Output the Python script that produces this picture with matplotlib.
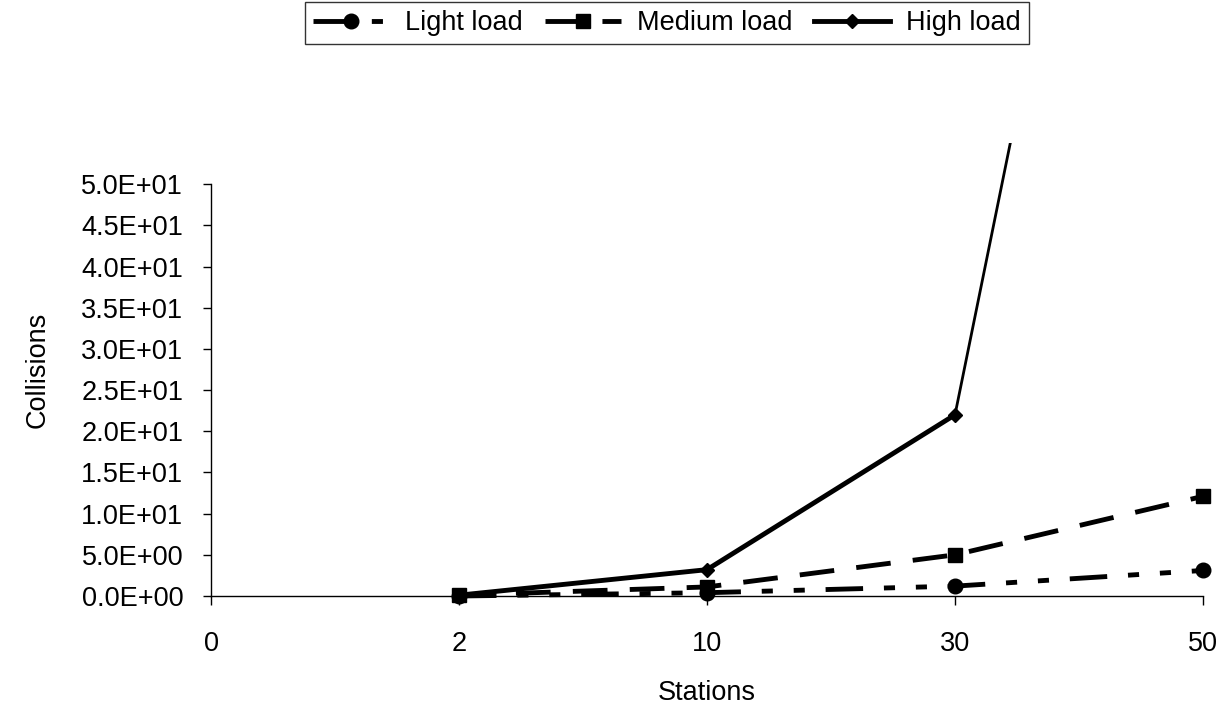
import matplotlib
matplotlib.use('Agg')
import matplotlib.pyplot as plt
from matplotlib.ticker import FormatStrFormatter

# Data
stations = ['0', '2', '10', '30', '50']
light_load = [None, 0.0, 0.4, 1.2, 3.1]
medium_load = [None, 0.1, 1.1, 5.0, 12.1]
high_load = [None, 0.1, 3.2, 22.0, 170.0]

plt.rcParams['font.family'] = ['Liberation Sans', 'DejaVu Sans']
plt.rcParams['lines.scale_dashes'] = False
fs = 19.5

fig = plt.figure(figsize=(12.32, 7.13), dpi=100)
ax = fig.add_axes([0.17127, 0.16409, 0.80519, 0.63534])

x = list(range(len(stations)))
xs = x[1:]

# high load: thin last segment (goes off the chart)
ax.plot(xs[-2:], high_load[-2:], color='black', lw=2)
ax.plot(xs[:-1], high_load[1:-1], color='black', lw=3.5,
        marker='D', markersize=7, label='High load')
ax.plot(xs, medium_load[1:], color='black', lw=3.5, dashes=(25, 16),
        marker='s', markersize=10, label='Medium load', clip_on=False)
ax.plot(xs, light_load[1:], color='black', lw=3.5, dashes=(27, 15, 8, 15, 8, 15),
        marker='o', markersize=10.5, label='Light load', clip_on=False)

ax.set_xlim(0, 4)
ax.set_ylim(0, 55)
ax.set_yticks([i * 5 for i in range(11)])
ax.yaxis.set_major_formatter(FormatStrFormatter('%.1E'))
ax.set_xticks(x)
ax.set_xticklabels(stations)

for s in ['top', 'right']:
    ax.spines[s].set_visible(False)
ax.spines['left'].set_bounds(0, 50)
ax.spines['left'].set_linewidth(1)
ax.spines['bottom'].set_linewidth(1)
ax.tick_params(axis='y', direction='out', length=6, width=1, pad=14, labelsize=fs)
ax.tick_params(axis='x', direction='out', length=6.5, width=1, pad=19, labelsize=fs)

ax.set_xlabel('Stations', fontsize=fs, labelpad=16)
ax.set_ylabel('Collisions', fontsize=fs, labelpad=22)

handles, labels = ax.get_legend_handles_labels()
order = [2, 1, 0]
leg = fig.legend([handles[i] for i in order], [labels[i] for i in order],
                 loc='upper center', bbox_to_anchor=(0.5414, 0.997), ncol=3, fontsize=fs,
                 frameon=True, fancybox=False, edgecolor='black', handlelength=2.8,
                 columnspacing=0.8, handletextpad=0.6, borderpad=0.3, borderaxespad=0)
leg.get_frame().set_linewidth(1)

plt.savefig('out.png', dpi=100)
